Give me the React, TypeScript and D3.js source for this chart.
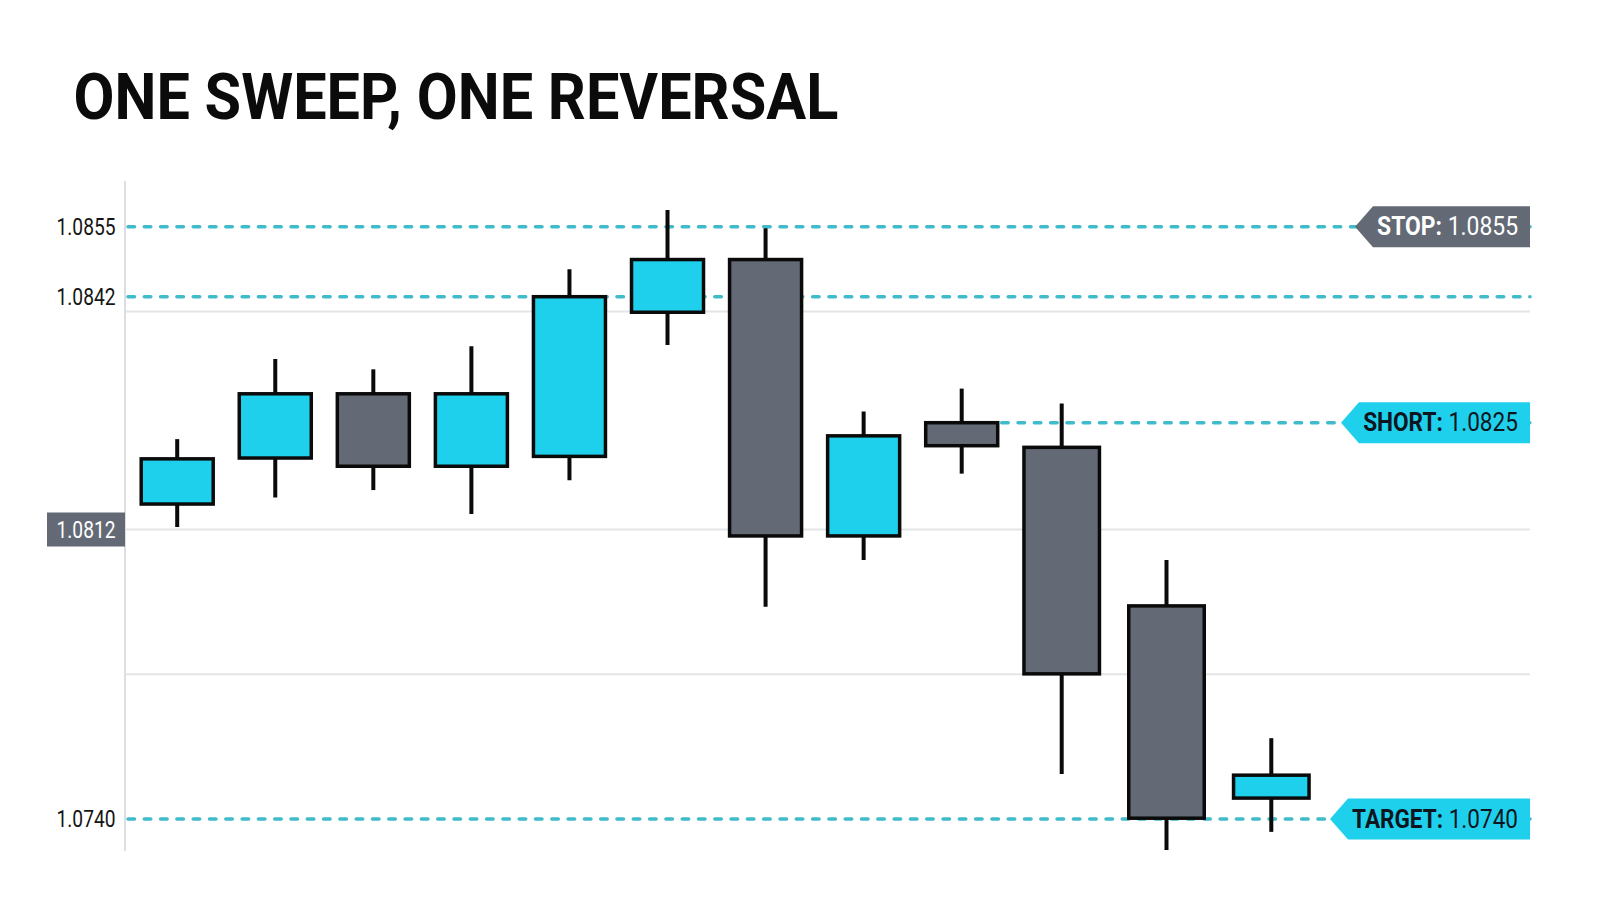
import { useEffect, useRef } from 'react'
import * as d3 from 'd3'

const WIDTH = 1600
const HEIGHT = 914

const TITLE = 'ONE SWEEP, ONE REVERSAL'

// candles, left to right
const candleIndex = [0, 1, 2, 3, 4, 5, 6, 7, 8, 9, 10, 11]
const opens = [1.08151, 1.08207, 1.08289, 1.08197, 1.08209, 1.08399, 1.08489, 1.08104, 1.0825, 1.0822, 1.0793, 1.07452]
const highs = [1.0823, 1.08336, 1.08322, 1.08353, 1.08471, 1.08581, 1.08547, 1.08265, 1.08296, 1.08276, 1.08044, 1.07601]
const lows = [1.08123, 1.08159, 1.08168, 1.08139, 1.0818, 1.08355, 1.07928, 1.08044, 1.08188, 1.07512, 1.07323, 1.07368]
const closes = [1.08206, 1.08289, 1.08197, 1.08289, 1.0842, 1.08489, 1.08104, 1.08234, 1.08222, 1.07761, 1.07402, 1.07509]

// price axis (the picture is not drawn to a single linear scale)
const priceKnots = [1.074, 1.0812, 1.0825, 1.0842, 1.0855]
const tickValues = [1.0855, 1.0842, 1.0812, 1.074]
const highlightTick = 1.0812
const gridValues = [1.084, 1.0812, 1.0776]

// dashed levels
const levelValues = [1.0855, 1.0842, 1.0825, 1.074]
const levelStartIndex = [-1, -1, 8, -1] // -1 = from the axis

// price tags on the right
const tagNames = ['STOP:', 'SHORT:', 'TARGET:']
const tagValues = [1.0855, 1.0825, 1.074]

const CYAN = '#1fd0ec'
const GRAY = '#636a75'
const DASH = '#40bbca'

export default function App() {
  const svgRef = useRef<SVGSVGElement>(null)

  useEffect(() => {
    if (!svgRef.current) return
    const svg = d3.select(svgRef.current)
    svg.selectAll('*').remove()

    const plotLeft = 125
    const plotRight = 1530
    const plotTop = 181
    const plotBottom = 851

    const y = d3.scaleLinear()
      .domain(priceKnots)
      .range([819, 529.5, 422.7, 296.7, 226.7])

    // candle centres: spacing opens up a little after the entry candle
    const x = d3.scaleLinear()
      .domain([0, 8, 9, 11])
      .range([177.2, 961.7, 1061.7, 1271.3])
    const bodyW = d3.scaleLinear()
      .domain([8, 9])
      .range([72, 75.5])
      .clamp(true)

    const font = 'Roboto, "Noto Sans", sans-serif'

    // squeeze text horizontally to a given width (condensed look)
    const fit = (sel: d3.Selection<SVGTextElement, unknown, null, undefined>, w: number, anchorX: number, ty: number, anchor: 'start' | 'end') => {
      const node = sel.node()!
      const natural = node.getComputedTextLength()
      const s = natural > 0 ? w / natural : 1
      sel.attr('x', 0).attr('y', 0)
        .attr('text-anchor', anchor)
        .attr('transform', `translate(${anchorX},${ty}) scale(${s},1)`)
    }

    // title
    const title = svg.append('text')
      .attr('font-family', font)
      .attr('font-weight', 700)
      .attr('font-size', 64)
      .attr('fill', '#0b0b0b')
      .text(TITLE)
    fit(title, 765, 73.5, 119, 'start')

    // grid
    svg.append('g')
      .selectAll('line')
      .data(gridValues)
      .join('line')
      .attr('x1', plotLeft)
      .attr('x2', plotRight)
      .attr('y1', d => y(d))
      .attr('y2', d => y(d))
      .attr('stroke', '#e4e5e7')
      .attr('stroke-width', 2)

    // axis line
    svg.append('line')
      .attr('x1', plotLeft).attr('x2', plotLeft)
      .attr('y1', plotTop).attr('y2', plotBottom)
      .attr('stroke', '#dcdee1')
      .attr('stroke-width', 2)

    // tick labels
    tickValues.forEach(v => {
      const ty = y(v)
      const hl = v === highlightTick
      if (hl) {
        svg.append('rect')
          .attr('x', 47)
          .attr('y', ty - 17)
          .attr('width', plotLeft - 47)
          .attr('height', 34)
          .attr('fill', GRAY)
      }
      const t = svg.append('text')
        .attr('font-family', font)
        .attr('font-size', 23)
        .attr('dy', '0.35em')
        .attr('fill', hl ? '#ffffff' : '#151515')
        .text(v.toFixed(4))
      fit(t, 59, 115.5, ty, 'end')
    })

    // dashed levels
    levelValues.forEach((v, i) => {
      const si = levelStartIndex[i]
      const x1 = si < 0 ? plotLeft + 3 : x(si) + bodyW(si) / 2 + 4
      svg.append('line')
        .attr('x1', x1)
        .attr('x2', plotRight)
        .attr('y1', y(v))
        .attr('y2', y(v))
        .attr('stroke', DASH)
        .attr('stroke-width', 3.5)
        .attr('stroke-linecap', 'round')
        .attr('stroke-dasharray', '6.5 9.8')
    })

    // candles
    const g = svg.append('g')
    candleIndex.forEach(i => {
      const cx = x(i)
      const w = bodyW(i)
      const up = closes[i] >= opens[i]
      g.append('line')
        .attr('x1', cx).attr('x2', cx)
        .attr('y1', y(highs[i]))
        .attr('y2', y(lows[i]))
        .attr('stroke', '#0a0a0a')
        .attr('stroke-width', 4)
      const top = y(Math.max(opens[i], closes[i]))
      const bot = y(Math.min(opens[i], closes[i]))
      g.append('rect')
        .attr('x', cx - w / 2)
        .attr('y', top)
        .attr('width', w)
        .attr('height', bot - top)
        .attr('fill', up ? CYAN : GRAY)
        .attr('stroke', '#0a0a0a')
        .attr('stroke-width', 3.5)
    })

    // price tags
    const textWidths = [141, 155, 166]
    tagNames.forEach((name, i) => {
      const ty = y(tagValues[i])
      const textRight = 1518
      const textLeft = textRight - textWidths[i]
      const tip = textLeft - 22
      const corner = tip + 18
      const h = 20.5
      const isStop = i === 0
      svg.append('path')
        .attr('d', `M${tip},${ty} L${corner},${ty - h} L${plotRight},${ty - h} L${plotRight},${ty + h} L${corner},${ty + h} Z`)
        .attr('fill', isStop ? GRAY : CYAN)
      const t = svg.append('text')
        .attr('font-family', font)
        .attr('font-size', 25)
        .attr('dy', '0.35em')
        .attr('fill', isStop ? '#ffffff' : '#0d1620')
      t.append('tspan').attr('font-weight', 700).text(name)
      t.append('tspan').attr('font-weight', 400).text(' ' + tagValues[i].toFixed(4))
      fit(t, textWidths[i], textRight, ty, 'end')
    })
  }, [])

  return (
    <svg
      ref={svgRef}
      width={WIDTH}
      height={HEIGHT}
      style={{ position: 'absolute', left: 0, top: 0, background: '#ffffff' }}
    />
  )
}
